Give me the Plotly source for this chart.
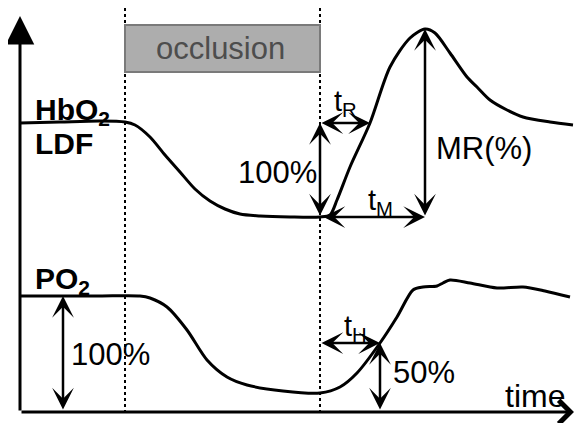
import numpy as np
import plotly.graph_objects as go

# ---- data (schematic units: time on x, signal level on y; y grows downward) ----
t_hbo2 = [20, 60, 100, 125, 135, 150, 165, 180, 195, 210, 225, 240, 260, 290, 320,
          330, 337, 350, 370, 390, 410, 425, 435, 450, 467, 477, 490, 507, 523, 550, 573]
hbo2 = [123, 122, 121, 122, 125, 137, 155, 172, 189, 201, 209, 214, 216, 217, 217,
        215, 200, 167, 123, 67, 38, 29, 33, 53, 77, 87, 100, 110, 117, 122, 125]

t_po2 = [20, 60, 100, 140, 150, 167, 187, 207, 227, 247, 283, 320, 340, 357, 380,
         397, 413, 423, 437, 443, 450, 470, 497, 523, 545, 570]
po2 = [296, 296, 296, 296, 298, 307, 330, 360, 377, 385, 391, 393, 387, 373, 343,
       317, 290, 287, 286, 283, 280, 283, 288, 287, 291, 297]

occlusion = [125, 320]          # start / end of occlusion (time)
t_R = 370                       # recovery to baseline (HbO2/LDF)
t_M = 425                       # time of maximal response
t_H = 380                       # half recovery of PO2
baseline_axis = 411             # zero level (time axis)

FONT = "Liberation Sans, Arial, sans-serif"
PAGE = 8  # default page margin of the html body
fig = go.Figure()

fig.add_trace(go.Scatter(x=t_hbo2, y=hbo2, mode="lines",
                         line=dict(color="black", width=3, shape="spline", smoothing=0.8),
                         hoverinfo="skip", showlegend=False))
fig.add_trace(go.Scatter(x=t_po2, y=po2, mode="lines",
                         line=dict(color="black", width=3, shape="spline", smoothing=0.8),
                         hoverinfo="skip", showlegend=False))

# derived levels
hb_base = hbo2[0]
hb_min = max(hbo2)
hb_peak = min(hbo2)
po_base = po2[0]
po_half = float(np.interp(t_H, t_po2, po2))

# dotted occlusion lines
for xv in occlusion:
    fig.add_shape(type="line", x0=xv, x1=xv, y0=8, y1=baseline_axis,
                  line=dict(color="black", width=2, dash="dot"))

# occlusion box
fig.add_shape(type="rect", x0=occlusion[0], x1=occlusion[1], y0=25, y1=72,
              fillcolor="#adadad", line=dict(color="#7a7a7a", width=2))
fig.add_annotation(x=(occlusion[0] + occlusion[1]) / 2 - 2, y=48, text="occlusion",
                   showarrow=False, font=dict(family=FONT, size=31, color="#4d4d4d"))

def arrow(x0, y0, x1, y1, both=True, head=3, size=1.45, width=2.5):
    fig.add_annotation(x=x1, y=y1, ax=x0, ay=y0, xref="x", yref="y", axref="x", ayref="y",
                       text="", showarrow=True, arrowhead=head, arrowsize=size,
                       arrowwidth=width, arrowcolor="black",
                       arrowside="end+start" if both else "end",
                       startarrowhead=head, startarrowsize=size)

# axes
arrow(20, baseline_axis + 1, 20, 16, both=False, head=2, size=1.9, width=3)
arrow(20, baseline_axis + 1, 574, baseline_axis + 1, both=False, head=4, size=1.5, width=3)

# measurement arrows
arrow(occlusion[1], hb_min, occlusion[1], hb_base)        # 100% HbO2
arrow(occlusion[1], hb_base, t_R, hb_base)                 # tR
arrow(occlusion[1] + 2, hb_min, t_M, hb_min)               # tM
arrow(t_M, hb_min, t_M, hb_peak)                           # MR
arrow(63, baseline_axis, 63, po_base)                      # 100% PO2
arrow(occlusion[1], po_half, t_H, po_half)                 # tH
arrow(t_H, baseline_axis, t_H, po_half)                    # 50%

def label(x, y, text, xanchor="center", size=31, bold=False):
    if bold:
        text = "<b>" + text + "</b>"
    fig.add_annotation(x=x, y=y, text=text, showarrow=False, xanchor=xanchor,
                       yanchor="middle", font=dict(family=FONT, size=size, color="black"))

label(33, 111, "HbO<sub>2</sub>", xanchor="left", size=30, bold=True)
label(33, 143, "LDF", xanchor="left", size=30, bold=True)
label(33, 280, "PO<sub>2</sub>", xanchor="left", size=30, bold=True)
label(277, 172, "100%")
label(110, 354, "100%")
label(484, 148, "MR(%)")
label(424, 372, "50%")
label(535, 396, "time", size=32)
label(345, 103, "t<sub>R</sub>", size=29)
label(380, 202, "t<sub>M</sub>", size=29)
label(355, 328, "t<sub>H</sub>", size=29)

fig.update_xaxes(range=[PAGE, 582], visible=False, fixedrange=True)
fig.update_yaxes(range=[423, PAGE], visible=False, fixedrange=True)
fig.update_layout(width=582 - PAGE, height=423 - PAGE, margin=dict(l=0, r=0, t=0, b=0),
                  paper_bgcolor="white", plot_bgcolor="white", showlegend=False)

fig.write_html("out.html")
